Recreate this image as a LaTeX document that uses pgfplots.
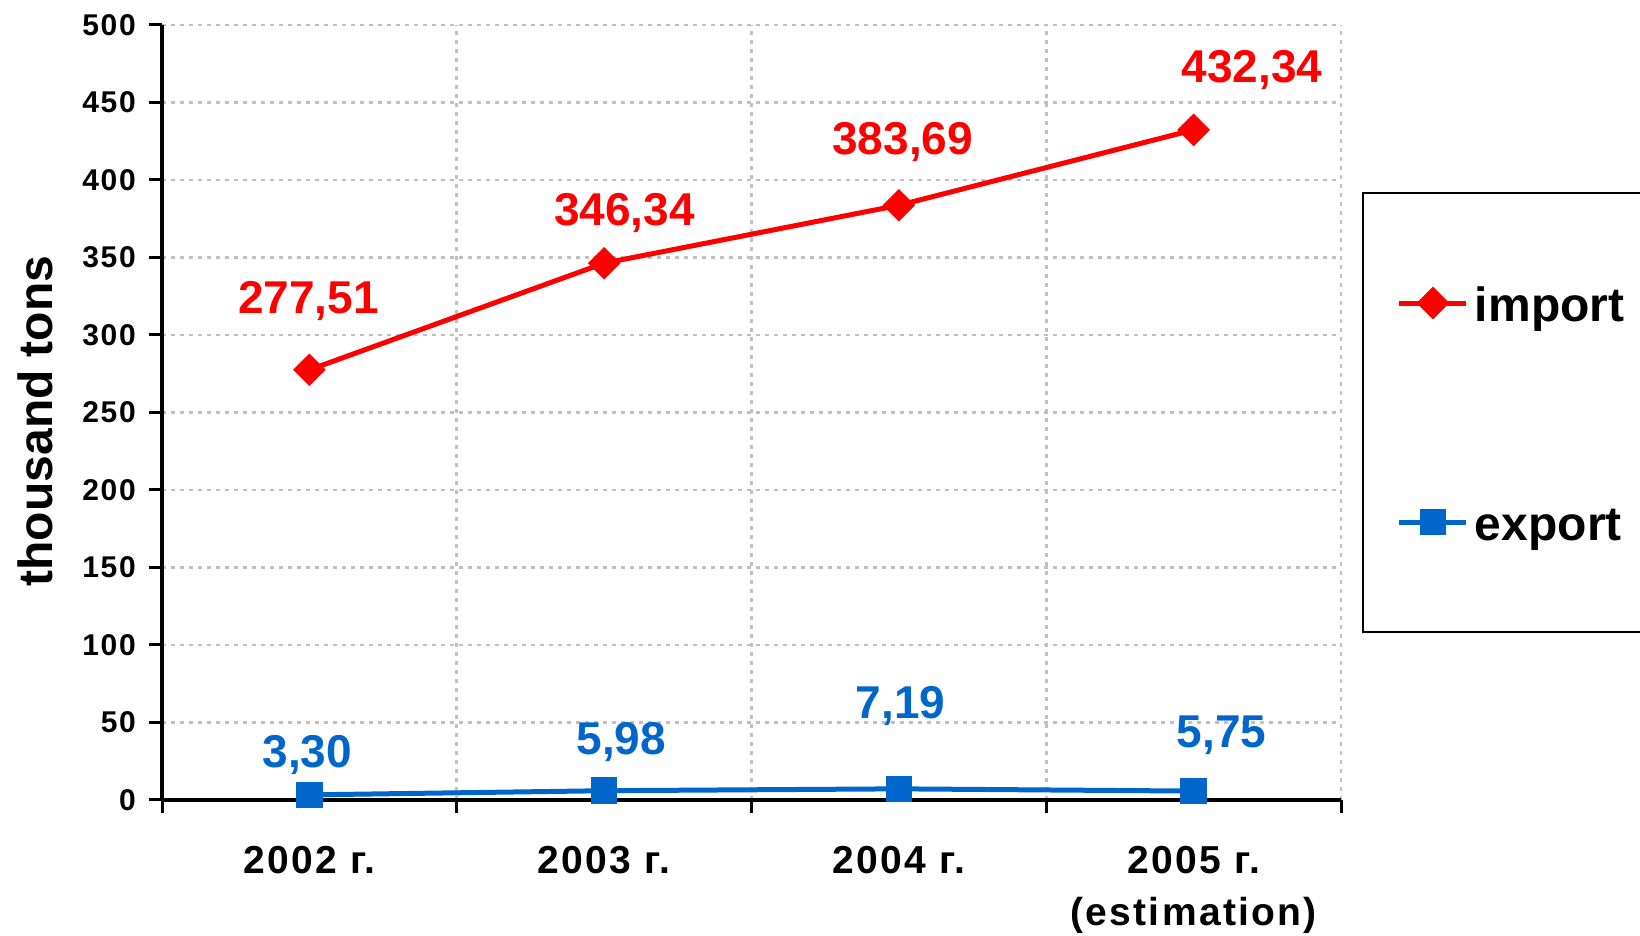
\documentclass[border=0pt]{standalone}
\usepackage{pgfplots}
\pgfplotsset{compat=1.18}
\usepackage{fontspec}
\setmainfont{Liberation Sans}
\newfontfamily\widefont[LetterSpace=6]{Liberation Sans}
\definecolor{imp}{HTML}{FF0000}
\definecolor{expc}{HTML}{0066CC}
\definecolor{gridc}{HTML}{C0C0C0}
\begin{document}
\begin{tikzpicture}
\path[use as bounding box] (0,0) rectangle (820pt,468pt);
\begin{axis}[
  at={(81pt,68pt)}, anchor=south west,
  scale only axis, width=589.5pt, height=387.5pt,
  xmin=0, xmax=4, ymin=0, ymax=500,
  clip=false,
  axis x line*=bottom, axis y line*=left,
  xtick={0,1,2,3,4}, xticklabels={},
  extra x ticks={0.5,1.5,2.5,3.5},
  extra x tick labels={2002 г.,2003 г.,2004 г.,{2005 г.\\(estimation)}},
  extra x tick style={major tick length=0pt, grid=none},
  ytick={0,50,...,500},
  tick align=outside, major tick length=6.5pt,
  tick style={black, line width=1.5pt},
  axis line style={black, line width=1.6pt},
  grid=major,
  grid style={gridc, line width=1.3pt, dash pattern=on 2pt off 2.5pt},
  /pgf/number format/assume math mode=true,
  yticklabel style={font=\widefont\bfseries\fontsize{15}{17}\selectfont, xshift=-3pt},
  xticklabel style={font=\widefont\bfseries\fontsize{19.5}{26}\selectfont, align=center, yshift=-19.5pt},
  ylabel={thousand tons},
  ylabel style={at={(axis description cs:-0.1077,0.489)}, anchor=center, font=\bfseries\fontsize{24}{28}\selectfont},
  legend style={at={(axis description cs:1.0178,0.7845)}, anchor=north west,
    draw=black, line width=1pt, font=\bfseries\fontsize{24}{28}\selectfont,
    nodes={text height=20pt, text depth=2pt, inner sep=0pt},
    row sep=87.5pt, column sep=3pt, inner xsep=17pt, inner ysep=44pt},
  legend cell align=left,
  legend image code/.code={\draw[mark repeat=2,mark phase=2,#1] plot coordinates {(0pt,0pt) (16.75pt,0pt) (33.5pt,0pt)};},
]
\addplot[imp, line width=2.5pt, mark=square*, mark size=4.5pt, mark options={solid, rotate=45}]
  coordinates {(0.5,277.51) (1.5,346.34) (2.5,383.69) (3.5,432.34)};
\addlegendentry{import}
\addplot[expc, line width=2.5pt, mark=square*, mark size=5.4pt, mark options={solid}]
  coordinates {(0.5,3.30) (1.5,5.98) (2.5,7.19) (3.5,5.75)};
\addlegendentry{export}
\begin{scope}[font=\bfseries\fontsize{23}{27}\selectfont, yshift=-2pt]
\node[text=imp] at (axis cs:0.497,324.6) {277,51};
\node[text=imp] at (axis cs:1.569,381.2) {346,34};
\node[text=imp] at (axis cs:2.513,427.1) {383,69};
\node[text=imp] at (axis cs:3.698,473.7) {432,34};
\node[text=expc] at (axis cs:0.493,31.7) {3,30};
\node[text=expc] at (axis cs:1.558,39.8) {5,98};
\node[text=expc] at (axis cs:2.506,63.4) {7,19};
\node[text=expc] at (axis cs:3.595,44.5) {5,75};
\end{scope}
\end{axis}
\end{tikzpicture}
\end{document}
